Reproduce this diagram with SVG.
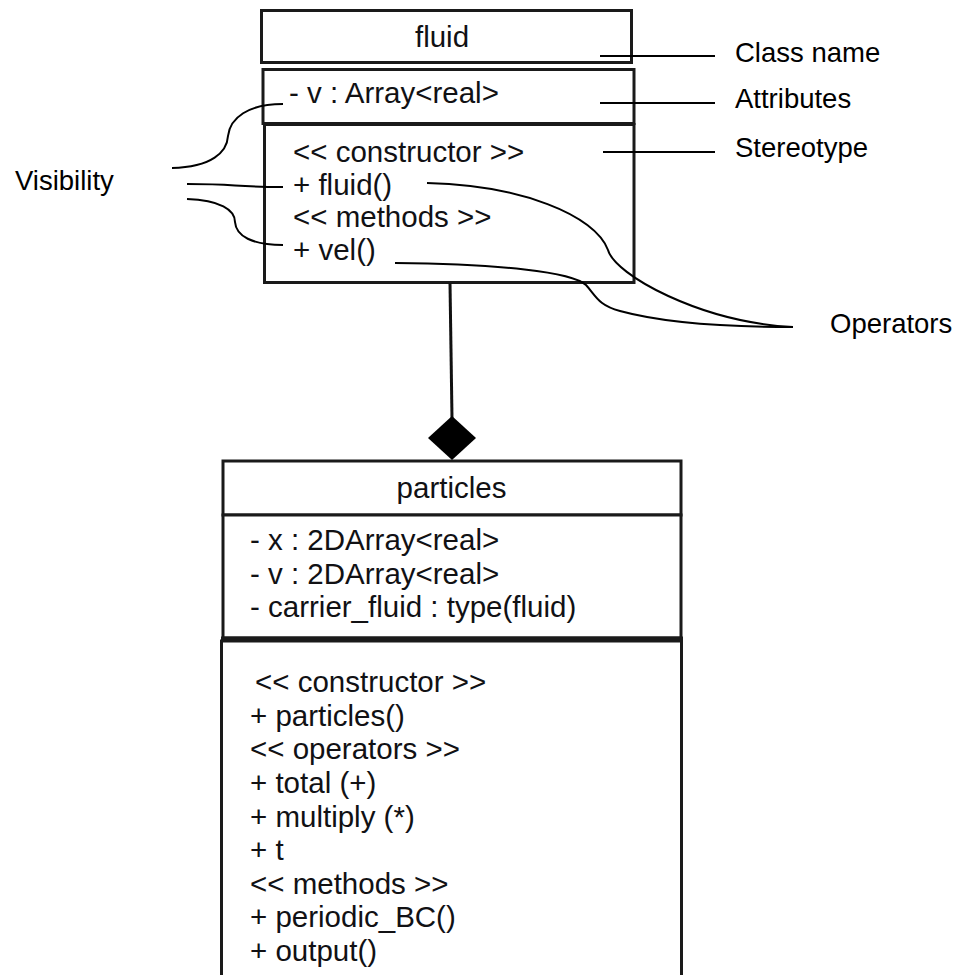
<svg xmlns="http://www.w3.org/2000/svg" width="956" height="975" viewBox="0 0 956 975">
<style>
.box{fill:#fff;stroke:#1a1a1a;stroke-width:3}
.bl{stroke:#1a1a1a;stroke-width:3;fill:none}
.t{font-family:"Liberation Sans",Arial,Helvetica,sans-serif;font-size:29.5px;fill:#111114}
.lab{font-family:"Liberation Sans",Arial,Helvetica,sans-serif;font-size:27.5px;fill:#000}
.ln{stroke:#000;stroke-width:2;fill:none}
</style>
<rect width="956" height="975" fill="#fff"/>
<g id="fluid">
<rect class="box" x="261.5" y="10.5" width="370" height="52"/>
<rect class="box" x="263" y="69.5" width="371" height="54"/>
<rect class="box" x="264.5" y="124.5" width="369.5" height="158"/>
<text class="t" x="442" y="47" text-anchor="middle">fluid</text>
<text class="t" x="289" y="103">- v : Array&lt;real&gt;</text>
<text class="t" x="293" y="162">&lt;&lt; constructor &gt;&gt;</text>
<text class="t" x="293" y="194.5">+ fluid()</text>
<text class="t" x="293" y="227">&lt;&lt; methods &gt;&gt;</text>
<text class="t" x="293" y="259.5">+ vel()</text>
</g>
<g id="particles">
<rect class="box" x="223" y="461" width="458" height="54"/>
<rect class="box" x="223" y="515" width="458" height="123"/>
<path class="bl" d="M221.5,975 V641 H681.5 V975"/>
<line x1="221" y1="639" x2="683" y2="639" stroke="#1a1a1a" stroke-width="5"/>
<text class="t" x="451.5" y="498" text-anchor="middle">particles</text>
<text class="t" x="250" y="550">- x : 2DArray&lt;real&gt;</text>
<text class="t" x="250" y="583.5">- v : 2DArray&lt;real&gt;</text>
<text class="t" x="250" y="617">- carrier_fluid : type(fluid)</text>
<text class="t" x="255" y="692">&lt;&lt; constructor &gt;&gt;</text>
<text class="t" x="250" y="725.6">+ particles()</text>
<text class="t" x="250" y="759">&lt;&lt; operators &gt;&gt;</text>
<text class="t" x="250" y="793">+ total (+)</text>
<text class="t" x="250" y="826.5">+ multiply (*)</text>
<text class="t" x="250" y="860">+ t</text>
<text class="t" x="250" y="893.6">&lt;&lt; methods &gt;&gt;</text>
<text class="t" x="250" y="927">+ periodic_BC()</text>
<text class="t" x="250" y="961">+ output()</text>
</g>
<g id="labels">
<text class="lab" x="735" y="62">Class name</text>
<text class="lab" x="735" y="108">Attributes</text>
<text class="lab" x="735" y="157">Stereotype</text>
<text class="lab" x="830" y="333">Operators</text>
<text class="lab" x="15" y="190">Visibility</text>
</g>
<g id="connectors">
<line x1="450" y1="283" x2="452" y2="418" stroke="#111" stroke-width="3"/>
<polygon points="452,416 476,438 452,460 428,438" fill="#000"/>
<path class="ln" d="M600,56 H715"/>
<path class="ln" d="M600,103 H715"/>
<path class="ln" d="M603,152 H715"/>
<path class="ln" d="M427,183 C520,185 595,215 608,250 C615,275 700,322 793,327"/>
<path class="ln" d="M395,263 C500,264 572,272 586,285 C596,296 598,305 620,311 C660,322 720,327 793,327"/>
<path class="ln" d="M172,168 C212,167 227,152 228,136 C230,118 248,104 283,104"/>
<path class="ln" d="M187,184 C240,184 230,187 283,187"/>
<path class="ln" d="M187,199 C220,200 235,210 235,222 C236,236 252,245 283,245"/>
</g>
</svg>
